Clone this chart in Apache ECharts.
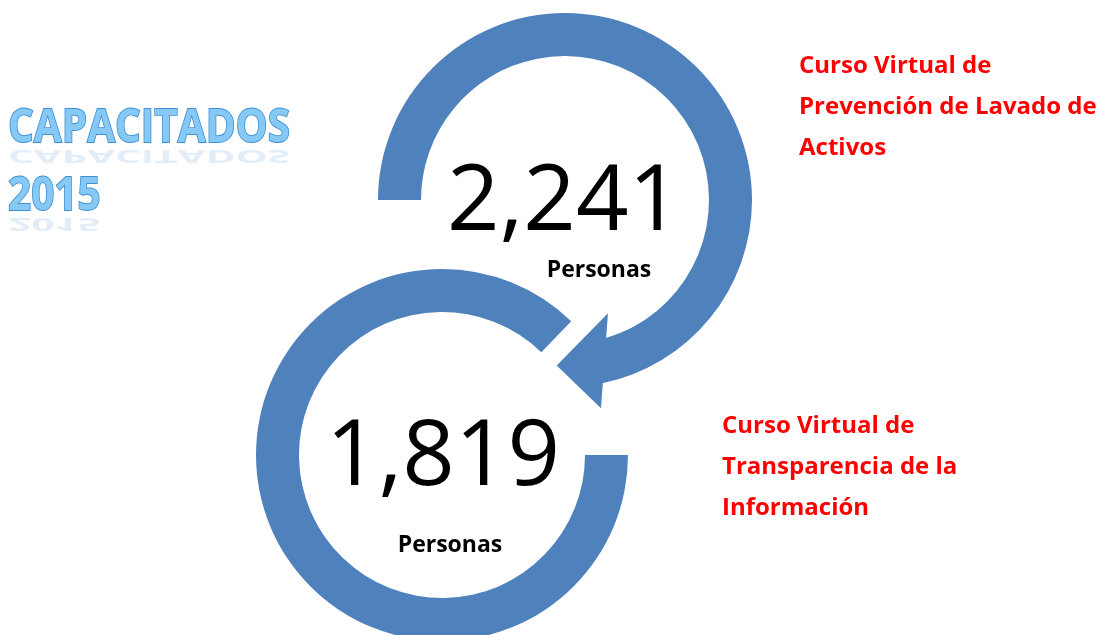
<!DOCTYPE html>
<html>
<head>
<meta charset="utf-8">
<script src="https://cdn.jsdelivr.net/npm/echarts@6/dist/echarts.min.js"></script>
<style>
  html,body{margin:0;padding:0;background:#fff;}
  #main{width:1105px;height:635px;}
</style>
</head>
<body>
<div id="main"></div>
<script>
// datos
const titleLines = ['CAPACITADOS', '2015'];
const courses = [
  'Curso Virtual de\nPrevención de Lavado de\nActivos',
  'Curso Virtual de\nTransparencia de la\nInformación'
];
const counts = [2241, 1819];
const unitLabel = 'Personas';

// geometria de los anillos (px, grados)
const rings = [
  { cx: 565, cy: 200, r0: 144, r1: 187, start: 180, sweep: 258.5, arrow: true },
  { cx: 442, cy: 455, r0: 143, r1: 186, start: 0, sweep: 314, arrow: false }
];
const blue = '#4F81BD';

const chart = echarts.init(document.getElementById('main'), null, { renderer: 'canvas' });

const series = rings.map((rg, i) => ({
  type: 'pie',
  silent: true,
  animation: false,
  center: [rg.cx, rg.cy],
  radius: [rg.r0, rg.r1],
  startAngle: rg.start,
  clockwise: true,
  label: { show: false },
  labelLine: { show: false },
  z: 2,
  data: [
    { value: rg.sweep, name: courses[i], itemStyle: { color: blue } },
    { value: 360 - rg.sweep, name: '', itemStyle: { color: 'rgba(0,0,0,0)' } }
  ]
}));

// punta de flecha calculada desde el final del anillo superior
function arrowHead(rg) {
  const deg = Math.PI / 180;
  const endDeg = rg.sweep - rg.start - 2.3;   // angulo de pantalla (y hacia abajo)
  const rm = (rg.r0 + rg.r1) / 2;
  const bx = rg.cx + rm * Math.cos(endDeg * deg);
  const by = rg.cy + rm * Math.sin(endDeg * deg);
  const n = (endDeg + 18) * deg;               // direccion de la base
  const t = (endDeg + 98) * deg;               // direccion de la punta
  const half = 47.6, len = 48;
  return [
    [bx - Math.cos(n) * half, by - Math.sin(n) * half],
    [bx + Math.cos(t) * len, by + Math.sin(t) * len],
    [bx + Math.cos(n) * half, by + Math.sin(n) * half]
  ];
}

const graphics = [];
rings.forEach((rg, i) => {
  if (rg.arrow) {
    graphics.push({
      type: 'polygon', z: 3, silent: true,
      shape: { points: arrowHead(rg) },
      style: { fill: blue }
    });
  }
});

// numeros y "Personas"
const numPos = [[564, 204], [443, 459]];
const unitPos = [[599, 270], [450, 545]];
counts.forEach((c, i) => {
  graphics.push({
    type: 'text', z: 5, silent: true,
    x: numPos[i][0], y: numPos[i][1],
    style: {
      text: c.toLocaleString('en-US'),
      font: '400 92px "Open Sans"',
      fill: '#000', align: 'center', verticalAlign: 'middle'
    }
  });
  graphics.push({
    type: 'text', z: 5, silent: true,
    x: unitPos[i][0], y: unitPos[i][1],
    style: {
      text: unitLabel,
      font: '700 23px "Open Sans"',
      fill: '#000', align: 'center', verticalAlign: 'middle'
    }
  });
});

// etiquetas rojas
const coursePos = [[799, 46], [722, 406]];
courses.forEach((t, i) => {
  graphics.push({
    type: 'text', z: 5, silent: true,
    x: coursePos[i][0], y: coursePos[i][1],
    style: {
      text: t,
      font: '700 24px "Open Sans"',
      lineHeight: 41,
      fill: '#ff0000', align: 'left', verticalAlign: 'top'
    }
  });
});

// titulo tipo WordArt
const titleBase = [152, 220];
titleLines.forEach((t, i) => {
  // reflejo tenue
  graphics.push({
    type: 'text', z: 4, silent: true,
    x: 8, y: titleBase[i] - 6, scaleX: 0.88, scaleY: -0.4,
    style: {
      text: t,
      font: '700 46px "Open Sans"',
      fill: 'rgba(120,175,225,0.22)',
      align: 'left', verticalAlign: 'bottom'
    }
  });
  graphics.push({
    type: 'text', z: 6, silent: true,
    x: 8, y: titleBase[i], scaleX: 0.88,
    style: {
      text: t,
      font: '700 46px "Open Sans"',
      fill: '#86c9f4',
      stroke: '#3f8fd4', lineWidth: 1.8,
      align: 'left', verticalAlign: 'bottom'
    }
  });
});

chart.setOption({
  animation: false,
  backgroundColor: '#ffffff',
  series: series,
  graphic: graphics
});
</script>
</body>
</html>
